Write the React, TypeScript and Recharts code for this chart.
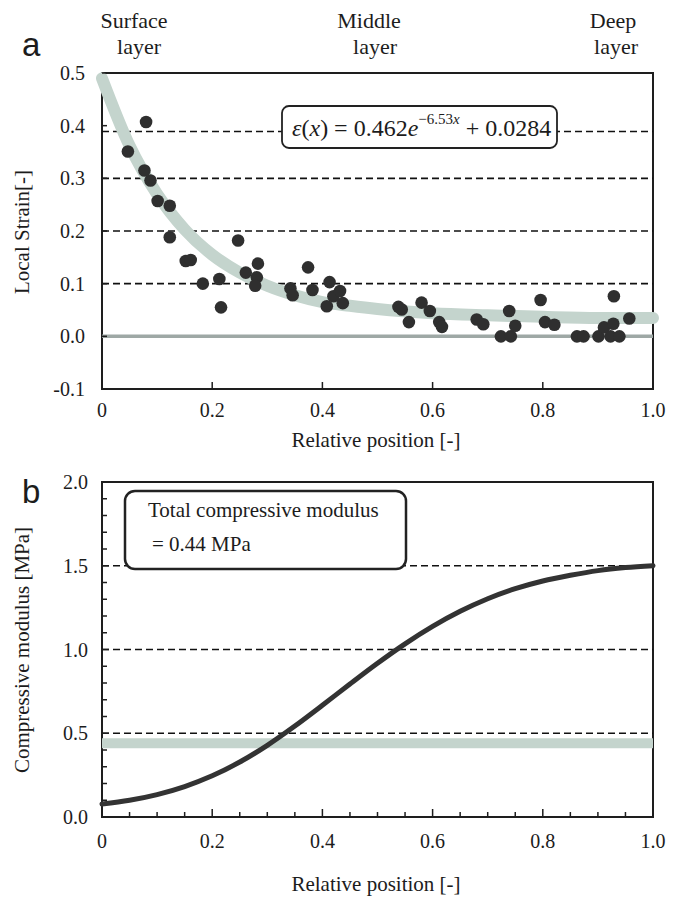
import React from 'react';
import { ComposedChart, Scatter, Line, XAxis, YAxis, ReferenceLine, ReferenceArea } from 'recharts';

const SERIF = '"Liberation Serif", "Times New Roman", Times, serif';
const SANS = '"Liberation Sans", Arial, sans-serif';
const INK = '#1e1e1e';

// ---------- Panel a : local strain ----------
const strainPosX = [0.047, 0.080, 0.077, 0.088, 0.101, 0.123, 0.123, 0.152, 0.161, 0.183, 0.213, 0.216, 0.247, 0.261, 0.283, 0.281, 0.278, 0.342, 0.346, 0.374, 0.382, 0.413, 0.408, 0.420, 0.432, 0.437, 0.538, 0.544, 0.557, 0.580, 0.595, 0.612, 0.617, 0.680, 0.692, 0.724, 0.742, 0.739, 0.750, 0.796, 0.804, 0.821, 0.862, 0.874, 0.901, 0.911, 0.928, 0.929, 0.923, 0.939, 0.957];
const strainVal = [0.351, 0.407, 0.315, 0.296, 0.257, 0.248, 0.188, 0.143, 0.145, 0.100, 0.109, 0.055, 0.182, 0.121, 0.138, 0.112, 0.096, 0.091, 0.078, 0.131, 0.088, 0.103, 0.057, 0.076, 0.086, 0.063, 0.056, 0.051, 0.027, 0.064, 0.048, 0.027, 0.018, 0.032, 0.023, 0.0, 0.0, 0.048, 0.020, 0.069, 0.027, 0.022, 0.0, 0.0, 0.0, 0.017, 0.024, 0.076, 0.0, 0.0, 0.034];

const fitPosX = [0, 0.05, 0.1, 0.15, 0.2, 0.25, 0.3, 0.35, 0.4, 0.45, 0.5, 0.6, 0.7, 0.8, 0.9, 1.0];
const fitVal = [0.49, 0.362, 0.27, 0.203, 0.155, 0.121, 0.096, 0.078, 0.065, 0.058, 0.052, 0.044, 0.040, 0.037, 0.035, 0.035];

const strainTicks = [-0.1, 0, 0.1, 0.2, 0.3, 0.4, 0.5];
const strainTickLabels = ['-0.1', '0.0', '0.1', '0.2', '0.3', '0.4', '0.5'];
const strainDashed = [0.389, 0.3, 0.2, 0.1];

const posTicks = [0, 0.2, 0.4, 0.6, 0.8, 1.0];
const posTickLabels = ['0', '0.2', '0.4', '0.6', '0.8', '1.0'];
const posMinorTicks = [0, 0.05, 0.1, 0.15, 0.2, 0.25, 0.3, 0.35, 0.4, 0.45, 0.5, 0.55, 0.6, 0.65, 0.7, 0.75, 0.8, 0.85, 0.9, 0.95, 1.0];

const layerNames = ['Surface', 'Middle', 'Deep'];

// ---------- Panel b : compressive modulus ----------
const modPosX = [0, 0.05, 0.1, 0.15, 0.2, 0.25, 0.3, 0.35, 0.4, 0.45, 0.5, 0.55, 0.6, 0.65, 0.7, 0.75, 0.8, 0.85, 0.9, 0.95, 1.0];
const modVal = [0.078, 0.100, 0.134, 0.182, 0.246, 0.328, 0.428, 0.543, 0.667, 0.794, 0.918, 1.034, 1.138, 1.228, 1.303, 1.363, 1.409, 1.443, 1.471, 1.489, 1.500];
const modTicks = [0, 0.5, 1.0, 1.5, 2.0];
const modTickLabels = ['0.0', '0.5', '1.0', '1.5', '2.0'];
const modMinorTicks = [0, 0.1, 0.2, 0.3, 0.4, 0.5, 0.6, 0.7, 0.8, 0.9, 1.0, 1.1, 1.2, 1.3, 1.4, 1.5, 1.6, 1.7, 1.8, 1.9, 2.0];
const modDashed = [1.5, 1.0, 0.5];
const totalModulus = 0.44;

const strainPoints = strainPosX.map((x, i) => ({ x, y: strainVal[i] }));
const fitPoints = fitPosX.map((x, i) => ({ x, y: fitVal[i] }));
const modPoints = modPosX.map((x, i) => ({ x, y: modVal[i] }));

const findIdx = (arr: number[], v: number) => arr.findIndex((m) => Math.abs(m - v) < 1e-6);

const makeXTick = (majors: number[], labels: string[], majorLen: number, minorLen: number, dy: number) => (p: any) => {
  const { x, y, payload } = p;
  const idx = findIdx(majors, payload.value);
  return (
    <g>
      <line x1={x} x2={x} y1={y} y2={y - (idx >= 0 ? majorLen : minorLen)} stroke={INK} strokeWidth={1.5} />
      {idx >= 0 && (
        <text x={x} y={y + dy} textAnchor="middle" fontFamily={SERIF} fontSize={20} fill="#1c1c1c">
          {labels[idx]}
        </text>
      )}
    </g>
  );
};

const makeYTick = (majors: number[], labels: string[], majorLen: number, minorLen: number, dx: number) => (p: any) => {
  const { x, y, payload } = p;
  const idx = findIdx(majors, payload.value);
  return (
    <g>
      <line x1={x} x2={x + (idx >= 0 ? majorLen : minorLen)} y1={y} y2={y} stroke={INK} strokeWidth={1.5} />
      {idx >= 0 && (
        <text x={x - dx} y={y + 7} textAnchor="end" fontFamily={SERIF} fontSize={20} fill="#1c1c1c">
          {labels[idx]}
        </text>
      )}
    </g>
  );
};

const Dot = (p: any) => <circle cx={p.cx} cy={p.cy} r={6.3} fill="#2f2f2f" />;

export default function App() {
  return (
    <div style={{ position: 'absolute', left: 0, top: 0, width: 684, height: 897, background: '#fff' }}>
      <div style={{ position: 'absolute', left: 0, top: 0 }}>
        <ComposedChart width={684} height={460} margin={{ top: 73, right: 31, bottom: 41, left: 52 }}>
          <XAxis
            type="number"
            dataKey="x"
            domain={[0, 1]}
            ticks={posTicks}
            interval={0}
            tickSize={0}
            tickMargin={0}
            axisLine={false}
            height={30}
            tick={makeXTick(posTicks, posTickLabels, 7, 4, 28)}
          />
          <YAxis
            type="number"
            domain={[-0.1, 0.5]}
            ticks={strainTicks}
            interval={0}
            tickSize={0}
            tickMargin={0}
            axisLine={false}
            width={50}
            tick={makeYTick(strainTicks, strainTickLabels, 5, 5, 17)}
          />
          {strainDashed.map((v) => (
            <ReferenceLine key={v} y={v} stroke="#111" strokeWidth={1.6} strokeDasharray="7 4" />
          ))}
          <ReferenceLine y={0} stroke="#9ea8a5" strokeWidth={3.5} />
          <Line data={fitPoints} dataKey="y" type="monotone" stroke="#c4d4cd" strokeWidth={12} dot={false} activeDot={false} isAnimationActive={false} strokeLinecap="round" />
          <Scatter data={strainPoints} dataKey="y" shape={Dot} isAnimationActive={false} />
          <ReferenceArea x1={0} x2={1} y1={-0.1} y2={0.5} fill="none" fillOpacity={0} stroke={INK} strokeWidth={2} />
        </ComposedChart>
      </div>
      <div style={{ position: 'absolute', left: 0, top: 460 }}>
        <ComposedChart width={684} height={437} margin={{ top: 22, right: 31, bottom: 50, left: 52 }}>
          <XAxis
            type="number"
            dataKey="x"
            domain={[0, 1]}
            ticks={posMinorTicks}
            interval={0}
            tickSize={0}
            tickMargin={0}
            axisLine={false}
            height={30}
            tick={makeXTick(posTicks, posTickLabels, 8, 5, 31)}
          />
          <YAxis
            type="number"
            domain={[0, 2]}
            ticks={modMinorTicks}
            interval={0}
            tickSize={0}
            tickMargin={0}
            axisLine={false}
            width={50}
            tick={makeYTick(modTicks, modTickLabels, 7, 5, 14)}
          />
          {modDashed.map((v) => (
            <ReferenceLine key={v} y={v} stroke="#111" strokeWidth={1.6} strokeDasharray="7 4" />
          ))}
          <ReferenceLine y={totalModulus} stroke="#c4d4cd" strokeWidth={10} />
          <Line data={modPoints} dataKey="y" type="monotone" stroke="#333" strokeWidth={5} dot={false} activeDot={false} isAnimationActive={false} strokeLinecap="round" />
          <ReferenceArea x1={0} x2={1} y1={0} y2={2} fill="none" fillOpacity={0} stroke={INK} strokeWidth={2} />
        </ComposedChart>
      </div>
      <svg width={684} height={897} style={{ position: 'absolute', left: 0, top: 0, pointerEvents: 'none' }}>
        <g fontFamily={SERIF} fill="#1c1c1c">
          <text x={22} y={56} fontFamily={SANS} fontSize={33}>a</text>
          <text x={22} y={503} fontFamily={SANS} fontSize={33}>b</text>

          <text x={134} y={28} fontSize={22} textAnchor="middle">{layerNames[0]}</text>
          <text x={139} y={54} fontSize={22} textAnchor="middle">layer</text>
          <text x={369} y={28} fontSize={22} textAnchor="middle">{layerNames[1]}</text>
          <text x={375} y={54} fontSize={22} textAnchor="middle">layer</text>
          <text x={613} y={28} fontSize={22} textAnchor="middle">{layerNames[2]}</text>
          <text x={616} y={54} fontSize={22} textAnchor="middle">layer</text>

          <text x={376} y={447} fontSize={21} textAnchor="middle">Relative position [-]</text>
          <text x={376} y={891} fontSize={21} textAnchor="middle">Relative position [-]</text>
          <text transform="translate(29,232) rotate(-90)" fontSize={21} textAnchor="middle">Local Strain[-]</text>
          <text transform="translate(29,650) rotate(-90)" fontSize={21} textAnchor="middle">Compressive modulus [MPa]</text>

          <rect x={282} y={106} width={275} height={42} rx={7} fill="#fff" stroke="#222" strokeWidth={1.8} />
          <text x={292} y={136} fontSize={24}>
            <tspan fontStyle="italic">ε</tspan>
            <tspan>(</tspan>
            <tspan fontStyle="italic">x</tspan>
            <tspan>) = 0.462</tspan>
            <tspan fontStyle="italic">e</tspan>
            <tspan fontSize={15} dy={-12}>−6.53</tspan>
            <tspan fontSize={15} fontStyle="italic">x</tspan>
            <tspan dy={12}> + 0.0284</tspan>
          </text>

          <rect x={125} y={491} width={281} height={78} rx={10} fill="#fff" stroke="#222" strokeWidth={2.5} />
          <text x={148} y={517} fontSize={21}>Total compressive modulus</text>
          <text x={152} y={551} fontSize={21}>= 0.44 MPa</text>
        </g>
      </svg>
    </div>
  );
}
